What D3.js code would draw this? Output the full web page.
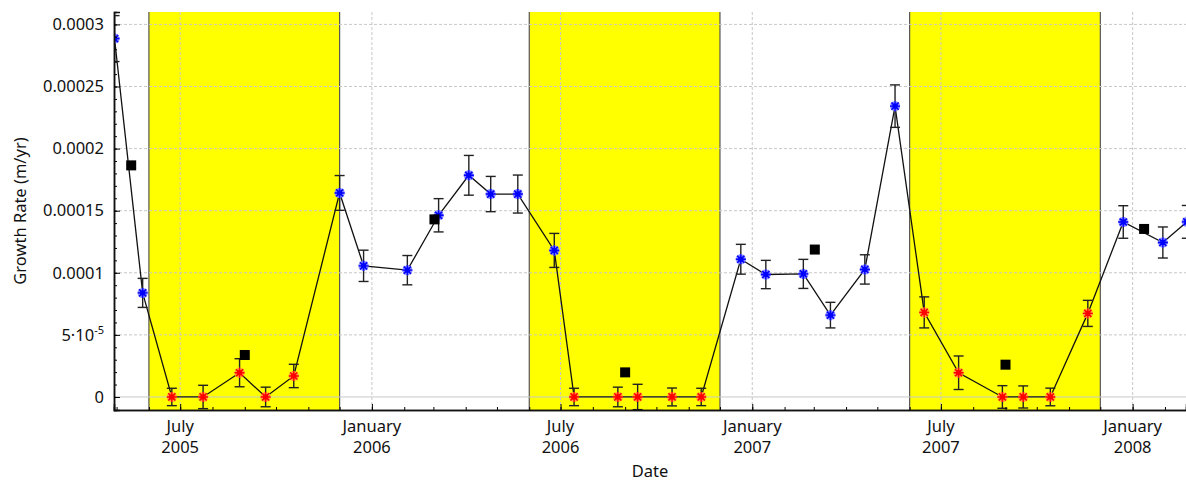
<!DOCTYPE html>
<html>
<head>
<meta charset="utf-8">
<script src="https://cdn.jsdelivr.net/npm/d3@7"></script>
<style>
  body { margin: 0; background: #fff; }
  text { font-family: "Noto Sans", "DejaVu Sans", sans-serif; fill: #111; }
</style>
</head>
<body>
<svg id="chart" width="1186" height="482"></svg>
<script>
// --- data ---
const pointDates = [
  "2005-04-29", "2005-05-26", "2005-06-23", "2005-07-23", "2005-08-27", "2005-09-21",
  "2005-10-18", "2005-12-01", "2005-12-24", "2006-02-04", "2006-03-06", "2006-04-04",
  "2006-04-25", "2006-05-21", "2006-06-25", "2006-07-14", "2006-08-25", "2006-09-13",
  "2006-10-16", "2006-11-13", "2006-12-21", "2007-01-14", "2007-02-19", "2007-03-17",
  "2007-04-19", "2007-05-18", "2007-06-15", "2007-07-18", "2007-08-29", "2007-09-18",
  "2007-10-14", "2007-11-19", "2007-12-23", "2008-01-30", "2008-02-22"
];
const growthRate = [
  0.0002886, 0.0000838, 0, 0, 0.0000195, 0,
  0.0000169, 0.0001643, 0.0001056, 0.0001021, 0.0001463, 0.0001785,
  0.0001634, 0.0001634, 0.000118, 0, 0, 0,
  0, 0, 0.0001109, 0.0000986, 0.0000991, 0.0000659,
  0.0001027, 0.0002342, 0.0000681, 0.0000195, 0, 0,
  0, 0.0000673, 0.0001409, 0.0001244, 0.000141
];
const growthErr = [
  0.0000185, 0.0000117, 0.000007, 0.0000094, 0.0000113, 0.0000079,
  0.0000094, 0.000014, 0.0000126, 0.0000118, 0.0000134, 0.000016,
  0.0000142, 0.0000153, 0.0000137, 0.000007, 0.0000079, 0.0000102,
  0.0000072, 0.000007, 0.000012, 0.0000114, 0.0000117, 0.0000103,
  0.0000118, 0.0000171, 0.0000125, 0.0000135, 0.0000091, 0.0000089,
  0.0000071, 0.0000105, 0.0000131, 0.0000125, 0.0000132
];
// 1 = red (summer) marker, 0 = blue marker
const summerFlag = [
  0, 0, 1, 1, 1, 1,
  1, 0, 0, 0, 0, 0,
  0, 0, 0, 1, 1, 1,
  1, 1, 0, 0, 0, 0,
  0, 0, 1, 1, 1, 1,
  1, 1, 0, 0, 0
];
const avgDates = ["2005-05-15", "2005-09-01", "2006-03-02", "2006-09-01", "2007-03-02", "2007-09-01", "2008-01-12"];
const avgRate = [0.0001865, 0.0000338, 0.000143, 0.0000198, 0.0001187, 0.000026, 0.0001353];
const bandStarts = ["2005-06-01", "2006-06-01", "2007-06-01"];
const bandEnds = ["2005-12-01", "2006-12-01", "2007-12-01"];
const yTickValues = [0, 0.00005, 0.0001, 0.00015, 0.0002, 0.00025, 0.0003];
const yTickLabels = ["0", "5·10", "0.0001", "0.00015", "0.0002", "0.00025", "0.0003"];

const parse = d3.utcParse("%Y-%m-%d");
const margin = { top: 12, right: 0, bottom: 72, left: 114 };
const width = 1186, height = 482;

const svg = d3.select("#chart");
const x = d3.scaleUtc()
  .domain([new Date(Date.UTC(2005, 3, 28, 12)), new Date(Date.UTC(2008, 1, 21, 5))])
  .range([margin.left, width - margin.right]);
const y = d3.scaleLinear()
  .domain([-0.0000105, 0.00031])
  .range([height - margin.bottom, margin.top]);

const x0 = margin.left, x1 = width - margin.right;
const y0 = height - margin.bottom, y1 = margin.top;

svg.append("defs").append("clipPath").attr("id", "plotClip")
  .append("rect").attr("x", x0).attr("y", y1).attr("width", x1 - x0).attr("height", y0 - y1);

const plot = svg.append("g").attr("clip-path", "url(#plotClip)");

// seasonal bands
bandStarts.forEach((s, i) => {
  const a = x(parse(s)), b = x(parse(bandEnds[i]));
  plot.append("rect").attr("x", a).attr("y", y1).attr("width", b - a).attr("height", y0 - y1)
    .attr("fill", "#ffff00");
  plot.append("line").attr("x1", a).attr("x2", a).attr("y1", y1).attr("y2", y0)
    .attr("stroke", "#555").attr("stroke-width", 1.2);
  plot.append("line").attr("x1", b).attr("x2", b).attr("y1", y1).attr("y2", y0)
    .attr("stroke", "#555").attr("stroke-width", 1.2);
});

// grid
const xMajor = x.ticks(d3.utcMonth.every(6));
plot.selectAll(".vgrid").data(xMajor).join("line")
  .attr("x1", d => x(d)).attr("x2", d => x(d)).attr("y1", y1).attr("y2", y0)
  .attr("stroke", "#c8c8c8").attr("stroke-dasharray", "3,2");
plot.selectAll(".hgrid").data(yTickValues).join("line")
  .attr("x1", x0).attr("x2", x1).attr("y1", d => y(d)).attr("y2", d => y(d))
  .attr("stroke", "#c8c8c8").attr("stroke-dasharray", d => d === 0 ? null : "3,2");

// data
const pts = pointDates.map((d, i) => ({
  date: parse(d), v: growthRate[i], e: growthErr[i], summer: summerFlag[i] === 1
}));

plot.append("path").datum(pts)
  .attr("fill", "none").attr("stroke", "#111").attr("stroke-width", 1.3)
  .attr("d", d3.line().x(d => x(d.date)).y(d => y(d.v)));

const eb = plot.selectAll(".err").data(pts).join("g").attr("stroke", "#222").attr("stroke-width", 1.4);
eb.append("line").attr("x1", d => x(d.date)).attr("x2", d => x(d.date))
  .attr("y1", d => y(d.v - d.e)).attr("y2", d => y(d.v + d.e));
eb.append("line").attr("x1", d => x(d.date) - 5).attr("x2", d => x(d.date) + 5)
  .attr("y1", d => y(d.v - d.e)).attr("y2", d => y(d.v - d.e));
eb.append("line").attr("x1", d => x(d.date) - 5).attr("x2", d => x(d.date) + 5)
  .attr("y1", d => y(d.v + d.e)).attr("y2", d => y(d.v + d.e));

const star = "M-5,0L5,0M0,-5L0,5M-3.6,-3.6L3.6,3.6M-3.6,3.6L3.6,-3.6";
const mk = plot.selectAll(".pt").data(pts).join("g")
  .attr("transform", d => `translate(${x(d.date)},${y(d.v)})`);
mk.append("path").attr("d", star).attr("fill", "none")
  .attr("stroke", d => d.summer ? "#ff9a3c" : "#7f7fff").attr("stroke-width", 3.2);
mk.append("path").attr("d", star).attr("fill", "none")
  .attr("stroke", d => d.summer ? "#ff0000" : "#0000ff").attr("stroke-width", 1.4);
mk.append("rect").attr("x", -2.5).attr("y", -2.5).attr("width", 5).attr("height", 5)
  .attr("fill", d => d.summer ? "#ff0000" : "#0000ff");

plot.selectAll(".avg").data(avgDates).join("rect")
  .attr("x", d => x(parse(d)) - 5).attr("y", (d, i) => y(avgRate[i]) - 5)
  .attr("width", 10).attr("height", 10).attr("fill", "#000");

// axes (ticks point inward)
const xAxisG = svg.append("g").attr("transform", `translate(0,${y0})`)
  .call(d3.axisBottom(x).ticks(d3.utcMonth.every(1)).tickSize(-3).tickFormat(""));
xAxisG.append("g")
  .call(d3.axisBottom(x).ticks(d3.utcMonth.every(6)).tickSize(-6).tickFormat(""));
xAxisG.selectAll(".domain").attr("stroke", "#111").attr("stroke-width", 1.5);

const yAxisG = svg.append("g").attr("transform", `translate(${x0},0)`)
  .call(d3.axisLeft(y).tickValues(d3.range(0, 0.000311, 0.00001)).tickSize(-3).tickFormat(""));
yAxisG.append("g")
  .call(d3.axisLeft(y).tickValues(yTickValues).tickSize(-6).tickFormat(""));
yAxisG.selectAll(".domain").attr("stroke", "#111").attr("stroke-width", 1.5);

// tick labels
const xLab = svg.append("g").attr("font-size", 16.5).attr("text-anchor", "middle");
xMajor.forEach(d => {
  const t = xLab.append("text").attr("x", x(d)).attr("y", 432);
  t.append("tspan").attr("x", x(d)).text(d3.utcFormat("%B")(d));
  t.append("tspan").attr("x", x(d)).attr("y", 453).text(d3.utcFormat("%Y")(d));
});

const yLab = svg.append("g").attr("font-size", 16.5).attr("text-anchor", "end");
yTickValues.forEach((v, i) => {
  const t = yLab.append("text").attr("x", 104).attr("y", y(v)).attr("dy", "0.35em");
  t.append("tspan").text(yTickLabels[i]);
  if (v === 0.00005) {
    t.append("tspan").attr("font-size", 11).attr("dy", "-0.6em").text("-5");
  }
});

svg.append("text").attr("x", (x0 + x1) / 2).attr("y", 477).attr("text-anchor", "middle")
  .attr("font-size", 16.5).text("Date");
svg.append("text").attr("transform", `translate(26,${(y0 + y1) / 2}) rotate(-90)`)
  .attr("text-anchor", "middle").attr("font-size", 16.5).text("Growth Rate (m/yr)");
</script>
</body>
</html>
